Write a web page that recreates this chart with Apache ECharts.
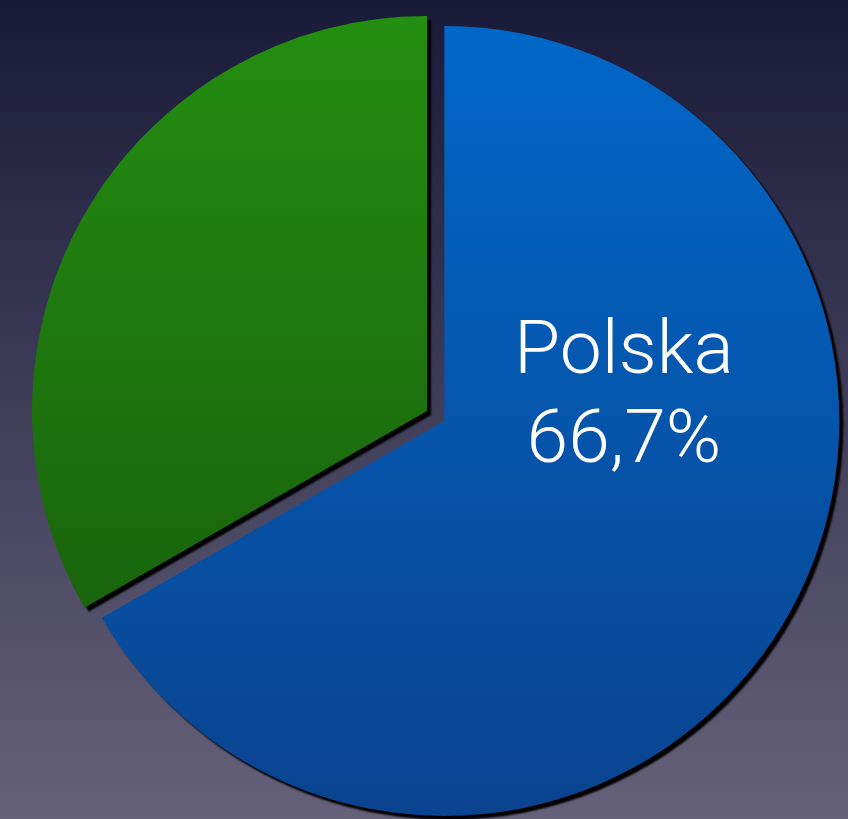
<!DOCTYPE html>
<html>
<head>
<meta charset="utf-8">
<script src="https://cdn.jsdelivr.net/npm/echarts@6/dist/echarts.min.js"></script>
<style>
  html, body { margin: 0; padding: 0; }
  #chart { width: 848px; height: 819px; }
</style>
</head>
<body>
<div id="chart"></div>
<script>
// Data
var categories = ['Polska', 'Inne'];
var values = [66.7, 33.3];
var labels = ['Polska\n66,7%', ''];
var explodedIndex = 1;

var chart = echarts.init(document.getElementById('chart'));

function grad(top, bottom) {
    return new echarts.graphic.LinearGradient(0, 0, 0, 1, [
        { offset: 0, color: top },
        { offset: 1, color: bottom }
    ]);
}

var colors = [grad('#0067c8', '#0a438f'), grad('#238e10', '#19640c')];

var seriesData = [];
for (var i = 0; i < categories.length; i++) {
    seriesData.push({
        name: categories[i],
        value: values[i],
        selected: i === explodedIndex,
        itemStyle: { color: colors[i] },
        label: { show: labels[i] !== '', formatter: labels[i] }
    });
}

chart.setOption({
    animation: false,
    backgroundColor: grad('#191a38', '#66617a'),
    series: [{
        type: 'pie',
        center: ['52.4%', '51.4%'],
        radius: [0, 395],
        startAngle: 90,
        clockwise: true,
        selectedMode: 'single',
        selectedOffset: 20,
        silent: true,
        itemStyle: {
            shadowColor: 'rgba(0,0,0,1)',
            shadowBlur: 2,
            shadowOffsetX: 4,
            shadowOffsetY: 4
        },
        label: {
            position: 'inside',
            color: '#ffffff',
            fontFamily: '"Helvetica Neue", Roboto, "Open Sans", sans-serif',
            fontWeight: 300,
            fontSize: 75,
            lineHeight: 89,
            align: 'center'
        },
        labelLine: { show: false },
        labelLayout: { dx: 6, dy: -123 },
        emphasis: { disabled: true },
        data: seriesData
    }]
});
</script>
</body>
</html>
